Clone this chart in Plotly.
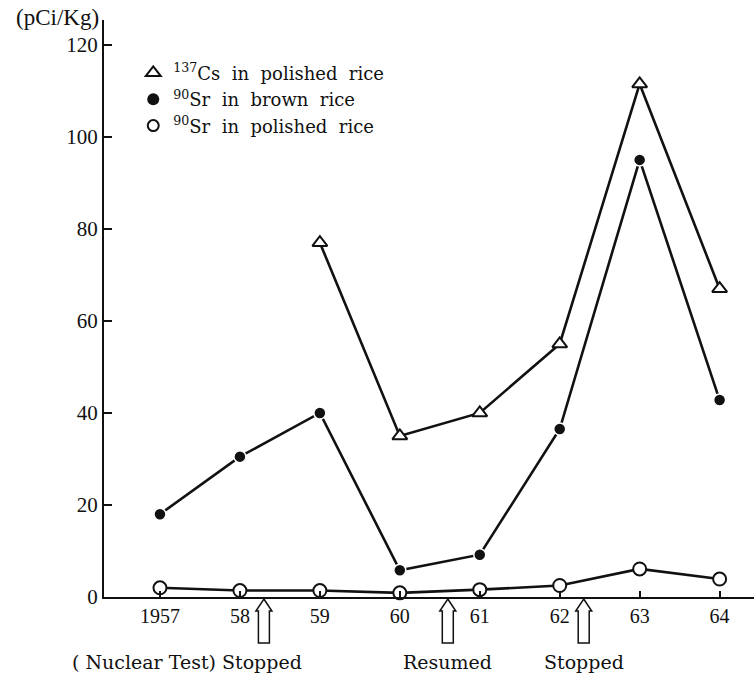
import plotly.graph_objects as go

years = [1957, 1958, 1959, 1960, 1961, 1962, 1963, 1964]
tick_text = ["1957", "58", "59", "60", "61", "62", "63", "64"]

cs137_polished_years = [1959, 1960, 1961, 1962, 1963, 1964]
cs137_polished = [77, 35, 40, 55, 111.5, 67]
sr90_brown = [18, 30.5, 40, 5.8, 9.2, 36.5, 95, 42.8]
sr90_polished = [2.0, 1.4, 1.4, 0.9, 1.6, 2.5, 6.1, 3.9]

event_years = [1958.3, 1960.6, 1962.3]
event_labels = ["( Nuclear Test) Stopped", "Resumed", "Stopped"]

legend_names = ["<sup>137</sup>Cs&nbsp; in&nbsp; polished&nbsp; rice",
                "<sup>90</sup>Sr&nbsp; in&nbsp; brown&nbsp; rice",
                "<sup>90</sup>Sr&nbsp; in&nbsp; polished&nbsp; rice"]

SERIF = "Liberation Serif"
WIDE = "DejaVu Serif"
BLACK = "#111111"

fig = go.Figure()

fig.add_trace(go.Scatter(
    x=cs137_polished_years, y=cs137_polished, mode="lines+markers",
    line=dict(color=BLACK, width=2.6),
    marker=dict(symbol="triangle-up", size=13, color="white", line=dict(color=BLACK, width=2)),
    showlegend=False, cliponaxis=False))
fig.add_trace(go.Scatter(
    x=years, y=sr90_brown, mode="lines+markers",
    line=dict(color=BLACK, width=2.6),
    marker=dict(symbol="circle", size=12, color=BLACK, line=dict(color="white", width=1.5)),
    showlegend=False, cliponaxis=False))
fig.add_trace(go.Scatter(
    x=years, y=sr90_polished, mode="lines+markers",
    line=dict(color=BLACK, width=2.6),
    marker=dict(symbol="circle", size=13, color="white", line=dict(color=BLACK, width=2)),
    showlegend=False, cliponaxis=False))

# legend entries
legend_markers = [
    dict(symbol="triangle-up", size=13, color="white", line=dict(color=BLACK, width=2)),
    dict(symbol="circle", size=12, color=BLACK),
    dict(symbol="circle", size=11, color="white", line=dict(color=BLACK, width=2)),
]
for nm, mk in zip(legend_names, legend_markers):
    fig.add_trace(go.Scatter(x=[None], y=[None], mode="markers", name=nm, marker=mk))

# hollow up arrows below the x axis
arrow_path = "M 0 -2 L 8 -14 L 5.5 -14 L 5.5 -46 L -5.5 -46 L -5.5 -14 L -8 -14 Z"
for ex, lab in zip(event_years, event_labels):
    fig.add_shape(type="path", xref="x", yref="paper", xsizemode="pixel", ysizemode="pixel",
                  xanchor=ex, yanchor=0, path=arrow_path,
                  line=dict(color=BLACK, width=1.5), fillcolor="white", layer="above")
    if lab.startswith("("):
        fig.add_annotation(x=ex, y=0, xref="x", yref="paper", text=lab, showarrow=False,
                           xanchor="right", yanchor="top", xshift=40, yshift=-52,
                           font=dict(family=WIDE, size=19, color=BLACK))
    else:
        fig.add_annotation(x=ex, y=0, xref="x", yref="paper", text=lab, showarrow=False,
                           xanchor="center", yanchor="top", yshift=-52,
                           font=dict(family=WIDE, size=19, color=BLACK))

fig.add_annotation(x=0, y=1, xref="paper", yref="paper", text="(pCi/Kg)", showarrow=False,
                   xanchor="right", yanchor="middle", xshift=-3, yshift=3,
                   font=dict(family=SERIF, size=23, color=BLACK))

fig.update_layout(
    width=754, height=676,
    margin=dict(l=104, r=0, t=20, b=79),
    paper_bgcolor="white", plot_bgcolor="white",
    font=dict(family=SERIF, size=20, color=BLACK),
    legend=dict(x=0.045, y=0.94, xanchor="left", yanchor="top",
                font=dict(family=WIDE, size=18, color=BLACK),
                bgcolor="rgba(0,0,0,0)", itemwidth=30, tracegroupgap=0),
    xaxis=dict(range=[1956.3, 1964.43], tickmode="array", tickvals=years, ticktext=tick_text,
               showgrid=False, zeroline=False, showline=True, linecolor=BLACK, linewidth=2,
               ticks="inside", ticklen=6, tickwidth=1.5, tickcolor=BLACK,
               tickfont=dict(family=SERIF, size=20, color=BLACK)),
    yaxis=dict(range=[0, 125.4], tickmode="array", tickvals=[0, 20, 40, 60, 80, 100, 120],
               showgrid=False, zeroline=False, showline=True, linecolor=BLACK, linewidth=2,
               ticks="inside", ticklen=8, tickwidth=1.5, tickcolor=BLACK,
               tickfont=dict(family=SERIF, size=21, color=BLACK)),
)

fig.write_html("out.html")
